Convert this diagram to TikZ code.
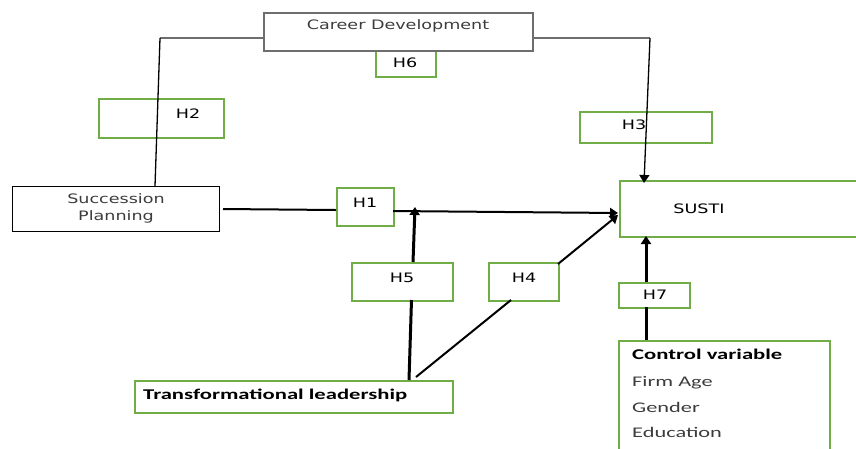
\documentclass[tikz,border=0pt]{standalone}
\usepackage{fontspec}
\usetikzlibrary{arrows.meta}
\newfontfamily\labfont[FakeStretch=1.35]{DejaVu Sans}
\newfontfamily\calfont[FakeStretch=1.52]{Carlito}
\definecolor{boxgreen}{RGB}{112,173,71}
\definecolor{txtgray}{RGB}{60,60,60}
\definecolor{linegray}{RGB}{110,110,110}
\tikzset{
  gbox/.style={draw=boxgreen, line width=1.6pt, fill=white, rectangle, inner sep=0pt, anchor=north west},
  kbox/.style={draw=black, line width=1.3pt, fill=white, rectangle, inner sep=0pt, anchor=north west},
  graybox/.style={draw=linegray, line width=1.6pt, fill=white, rectangle, inner sep=0pt, anchor=north west},
  lab/.style={font=\labfont\fontsize{13}{15}\selectfont, anchor=base, inner sep=0pt},
  grlab/.style={lab, text=txtgray},
  cal/.style={font=\calfont\fontsize{14.7}{17}\selectfont, anchor=base west, inner sep=0pt, text=txtgray},
  calb/.style={font=\calfont\bfseries\fontsize{14.9}{17}\selectfont, anchor=base west, inner sep=0pt, text=black},
  thin/.style={line width=1.3pt, draw=black},
  mid/.style={line width=2pt, draw=black},
  thick/.style={line width=3pt, draw=black},
  arr/.style={-{Triangle[width=10pt,length=8pt]}},
}
\begin{document}
\begin{tikzpicture}[x=1pt,y=-1pt]
\useasboundingbox (0,0) rectangle (856,448);
\clip (0,0) rectangle (856,448);
% boxes
\node[gbox, minimum width=60pt, minimum height=27pt] (h6) at (375,49) {};
\node[graybox, minimum width=269pt, minimum height=38pt] (career) at (263,12) {};
\node[gbox, minimum width=125pt, minimum height=39pt] (h2) at (98,98) {};
\node[kbox, minimum width=207pt, minimum height=45pt] (succ) at (12,186) {};
\node[gbox, minimum width=57pt, minimum height=38pt] (h1) at (336,187) {};
\node[gbox, minimum width=132pt, minimum height=31pt] (h3) at (579,111) {};
\node[gbox, minimum width=250pt, minimum height=56pt] (susti) at (619,180) {};
\node[gbox, minimum width=101pt, minimum height=38pt] (h5) at (351,262) {};
\node[gbox, minimum width=70pt, minimum height=38pt] (h4) at (488,262) {};
\node[gbox, minimum width=71pt, minimum height=25pt] (h7) at (618,282) {};
\node[gbox, minimum width=318pt, minimum height=32pt] (tl) at (134,380) {};
\node[gbox, minimum width=211pt, minimum height=120pt] (cv) at (618,340) {};
% texts
\node[grlab] (tcareer) at (398,29) {Career Development};
\node[grlab] (tsucc1) at (116,203) {Succession};
\node[grlab] (tsucc2) at (116,220) {Planning};
\node[lab] (th6) at (405,67) {H6};
\node[lab] (th2) at (188,118) {H2};
\node[lab] (th1) at (365,207) {H1};
\node[lab] (th3) at (634,129) {H3};
\node[lab] (tsusti) at (699,213) {SUSTI};
\node[lab] (th5) at (402,282) {H5};
\node[lab] (th4) at (524,282) {H4};
\node[lab] (th7) at (655,299) {H7};
\node[calb] (ttl) at (143,399) {Transformational leadership};
\node[calb] (tcv) at (632,359) {Control variable};
\node[cal] (tfa) at (632,386) {Firm Age};
\node[cal] (tge) at (632,412) {Gender};
\node[cal] (ted) at (632,437) {Education};
% connector coordinates
\coordinate (cdL) at (263,38);
\coordinate (bendL) at (160,38);
\coordinate (spT) at (155,186);
\coordinate (cdR) at (532,38);
\coordinate (bendR) at (650,38);
\coordinate (stT) at (644,183);
\coordinate (spR) at (223,209);
\coordinate (h1L) at (336,210);
\coordinate (h1R) at (393,211);
\coordinate (stL1) at (618,213);
\coordinate (tlT) at (409,380);
\coordinate (h5B) at (411.5,300);
\coordinate (h5T) at (413,262);
\coordinate (h1mid) at (415,207);
\coordinate (tlT2) at (416,377);
\coordinate (h4B) at (511,300);
\coordinate (h4T) at (558,264);
\coordinate (stL2) at (618,215);
\coordinate (cvT) at (646,340);
\coordinate (h7B) at (646,307);
\coordinate (h7T) at (646,282);
\coordinate (stB) at (646,236);
% connectors
\draw[thin, draw=linegray] (cdL) -- (bendL);
\draw[thin] (bendL) -- (spT);
\draw[thin, draw=linegray] (cdR) -- (bendR);
\draw[thin, arr] (bendR) -- (stT);
\draw[mid] (spR) -- (h1L);
\draw[mid, arr] (h1R) -- (stL1);
\draw[thick] (tlT) -- (h5B);
\draw[thick, arr] (h5T) -- (h1mid);
\draw[mid] (tlT2) -- (h4B);
\draw[mid, arr] (h4T) -- (stL2);
\draw[thick] (cvT) -- (h7B);
\draw[thick, arr] (h7T) -- (stB);
\end{tikzpicture}
\end{document}
